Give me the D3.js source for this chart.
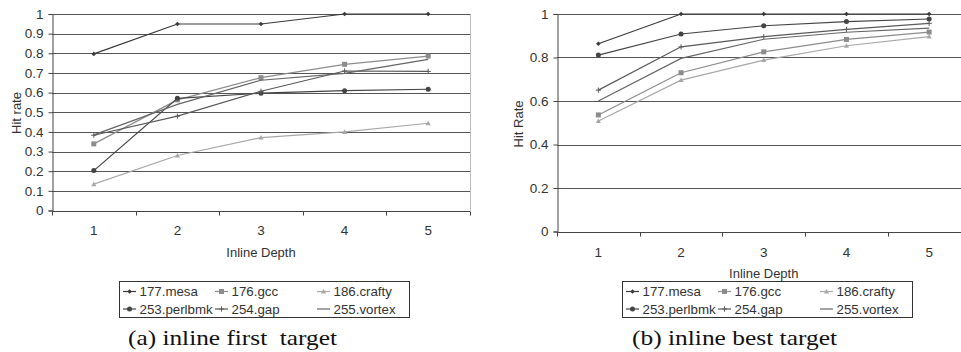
<!DOCTYPE html>
<html>
<head>
<meta charset="utf-8">
<script src="https://cdn.jsdelivr.net/npm/d3@7"></script>
<style>
  html, body { margin: 0; padding: 0; background: #fff; }
  svg { display: block; }
  text { font-family: "Liberation Sans", Arial, sans-serif; fill: #333; }
  text.caption { font-family: "Liberation Serif", "DejaVu Serif", serif; fill: #111; white-space: pre; }
</style>
</head>
<body>
<svg id="chart" width="961" height="352"></svg>
<script>
// Inline depths on the x axis
const depths = [1, 2, 3, 4, 5];

// Benchmarks, in legend order
const benchmarks = ["177.mesa", "176.gcc", "186.crafty", "253.perlbmk", "254.gap", "255.vortex"];

// Hit rate, inline first target
const firstMesa    = [0.797, 0.949, 0.949, 1.0, 1.0];
const firstGcc     = [0.339, 0.563, 0.676, 0.744, 0.786];
const firstCrafty  = [0.134, 0.280, 0.371, 0.400, 0.444];
const firstPerlbmk = [0.203, 0.571, 0.597, 0.610, 0.617];
const firstGap     = [0.383, 0.480, 0.607, 0.710, 0.708];
const firstVortex  = [0.385, 0.540, 0.663, 0.698, 0.769];

// Hit rate, inline best target
const bestMesa    = [0.863, 1.0, 1.0, 1.0, 1.0];
const bestGcc     = [0.536, 0.730, 0.826, 0.883, 0.917];
const bestCrafty  = [0.508, 0.696, 0.788, 0.854, 0.896];
const bestPerlbmk = [0.811, 0.908, 0.946, 0.965, 0.977];
const bestGap     = [0.650, 0.849, 0.896, 0.929, 0.957];
const bestVortex  = [0.600, 0.796, 0.884, 0.916, 0.935];

// Y tick values for each panel
const firstTicks = [0, 0.1, 0.2, 0.3, 0.4, 0.5, 0.6, 0.7, 0.8, 0.9, 1];
const bestTicks  = [0, 0.2, 0.4, 0.6, 0.8, 1];

// Line colour and marker shape per benchmark
const styles = {
  "177.mesa":    { color: "#3a3a3a", marker: "diamond" },
  "176.gcc":     { color: "#8c8c8c", marker: "square" },
  "186.crafty":  { color: "#a8a8a8", marker: "triangle" },
  "253.perlbmk": { color: "#444444", marker: "circle" },
  "254.gap":     { color: "#5a5a5a", marker: "plus" },
  "255.vortex":  { color: "#666666", marker: "none" }
};

const svg = d3.select("#chart");

function drawMarker(g, kind, x, y, color) {
  if (kind === "diamond") {
    g.append("path").attr("d", `M${x},${y-2.3}L${x+2.3},${y}L${x},${y+2.3}L${x-2.3},${y}Z`).attr("fill", color);
  } else if (kind === "square") {
    g.append("rect").attr("x", x-2.5).attr("y", y-2.5).attr("width", 5).attr("height", 5).attr("fill", color);
  } else if (kind === "triangle") {
    g.append("path").attr("d", `M${x},${y-2.6}L${x+2.6},${y+2}L${x-2.6},${y+2}Z`).attr("fill", color);
  } else if (kind === "circle") {
    g.append("circle").attr("cx", x).attr("cy", y).attr("r", 2.5).attr("fill", color);
  } else if (kind === "plus") {
    g.append("path").attr("d", `M${x-2.6},${y}H${x+2.6}M${x},${y-2.6}V${y+2.6}`).attr("stroke", color).attr("stroke-width", 1);
  }
}

function drawPanel(p) {
  const g = svg.append("g");
  const x = d3.scaleBand().domain(depths).range([p.left, p.right]);
  const y = d3.scaleLinear().domain([0, 1]).range([p.bottom, p.top]);

  // horizontal grid lines
  g.append("g").selectAll("line").data(p.ticks.filter(t => t > 0)).join("line")
    .attr("x1", p.left).attr("x2", p.gridRight)
    .attr("y1", d => Math.round(y(d)) + 0.5).attr("y2", d => Math.round(y(d)) + 0.5)
    .attr("stroke", "#555").attr("stroke-width", 1.2);

  if (p.rightBorder) {
    g.append("line").attr("x1", p.right + 0.5).attr("x2", p.right + 0.5)
      .attr("y1", p.top).attr("y2", p.bottom).attr("stroke", "#bbb");
  }

  // y axis
  const yAxis = g.append("g").attr("transform", `translate(${p.left + 0.5},0)`)
    .call(d3.axisLeft(y).tickValues(p.ticks).tickSize(4).tickPadding(5).tickFormat(d3.format("~g")));
  yAxis.attr("font-size", null).attr("font-family", null);
  yAxis.select(".domain").attr("stroke", "#444");
  yAxis.selectAll(".tick line").attr("stroke", "#444");
  yAxis.selectAll("text").style("font-size", "13.5px").attr("fill", "#333");

  // x axis: tick marks at category boundaries, labels at centres
  const xa = g.append("g").attr("transform", `translate(0,${Math.round(p.bottom) + 0.5})`);
  xa.append("line").attr("x1", p.left).attr("x2", p.gridRight).attr("stroke", "#444");
  const bounds = depths.map(d => x(d)).concat([p.right]);
  xa.selectAll("line.tk").data(bounds).join("line").attr("class", "tk")
    .attr("x1", d => Math.round(d) + 0.5).attr("x2", d => Math.round(d) + 0.5)
    .attr("y1", 0).attr("y2", 4).attr("stroke", "#444");
  xa.selectAll("text").data(depths).join("text")
    .attr("x", d => x(d) + x.bandwidth() / 2).attr("y", p.xLabelDy)
    .attr("text-anchor", "middle").attr("dominant-baseline", "central")
    .style("font-size", "13.5px").text(d => d);

  // axis titles
  g.append("text").attr("x", (p.left + p.right) / 2).attr("y", p.xTitleY)
    .attr("text-anchor", "middle").attr("dominant-baseline", "central")
    .style("font-size", "13px").text("Inline Depth");
  g.append("text").attr("transform", `translate(${p.yTitleX},${p.yTitleY}) rotate(-90)`)
    .attr("text-anchor", "middle").attr("dominant-baseline", "central")
    .style("font-size", "13px").text(p.yTitle);

  // series
  const line = d3.line().x((d, i) => x(depths[i]) + x.bandwidth() / 2).y(d => y(d));
  p.series.forEach((vals, si) => {
    const name = benchmarks[si];
    const st = styles[name];
    g.append("path").datum(vals).attr("d", line)
      .attr("fill", "none").attr("stroke", st.color).attr("stroke-width", 1.2);
    const mg = g.append("g");
    vals.forEach((v, i) => drawMarker(mg, st.marker, x(depths[i]) + x.bandwidth() / 2, y(v), st.color));
  });

  // legend
  const lg = g.append("g");
  lg.append("rect").attr("x", p.legend.x + 0.5).attr("y", p.legend.y + 0.5)
    .attr("width", p.legend.w).attr("height", p.legend.h)
    .attr("fill", "#fff").attr("stroke", "#333");
  const colX = [4, 96, 198];
  benchmarks.forEach((name, i) => {
    const col = i % 3, row = Math.floor(i / 3);
    const cx = p.legend.x + colX[col];
    const cy = p.legend.y + 10.5 + row * 17.5;
    const st = styles[name];
    lg.append("line").attr("x1", cx).attr("x2", cx + 13).attr("y1", cy).attr("y2", cy)
      .attr("stroke", st.color).attr("stroke-width", 1.2);
    drawMarker(lg, st.marker, cx + 6.5, cy, st.color);
    lg.append("text").attr("x", cx + 16.5).attr("y", cy).attr("dominant-baseline", "central")
      .style("font-size", "13.3px").text(name);
  });

  // caption
  g.append("text").attr("class", "caption")
    .attr("x", p.caption.x).attr("y", p.caption.y)
    .attr("dominant-baseline", "central").style("font-size", "21px")
    .attr("textLength", p.caption.w).attr("lengthAdjust", "spacingAndGlyphs")
    .text(p.caption.text);
}

drawPanel({
  left: 52, right: 470, gridRight: 470, top: 14, bottom: 210.5,
  ticks: firstTicks, rightBorder: true,
  xLabelDy: 19, xTitleY: 252, yTitle: "Hit rate", yTitleX: 16, yTitleY: 113,
  series: [firstMesa, firstGcc, firstCrafty, firstPerlbmk, firstGap, firstVortex],
  legend: { x: 119, y: 281, w: 290, h: 36 },
  caption: { x: 128, y: 338, w: 209, text: "(a) inline first  target" }
});

drawPanel({
  left: 557, right: 970.5, gridRight: 961, top: 14, bottom: 231.5,
  ticks: bestTicks, rightBorder: false,
  xLabelDy: 20, xTitleY: 273, yTitle: "Hit Rate", yTitleX: 518, yTitleY: 124,
  series: [bestMesa, bestGcc, bestCrafty, bestPerlbmk, bestGap, bestVortex],
  legend: { x: 622, y: 281, w: 290, h: 36 },
  caption: { x: 632, y: 338, w: 205, text: "(b) inline best target" }
});
</script>
</body>
</html>
